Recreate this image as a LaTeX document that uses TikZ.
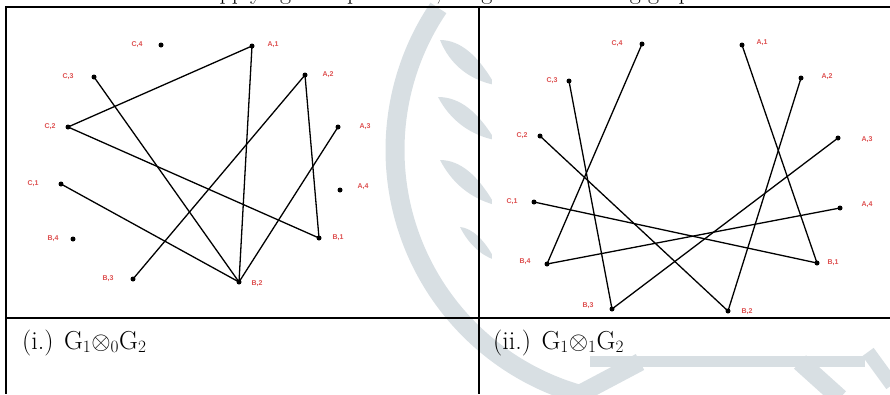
\documentclass[tikz,border=0pt]{standalone}
\usepackage{fontspec}
\newfontfamily\labfont{Liberation Sans}
\begin{document}
\begin{tikzpicture}[x=1pt,y=-1pt,
  dot/.style={circle,fill=black,inner sep=0pt,minimum size=5pt},
  lab/.style={font=\labfont\bfseries\fontsize{7}{7}\selectfont,text=labred,inner sep=1pt},
  edge/.style={line width=1.3pt,black},
  wm/.style={wmgray},
  rule/.style={line width=2pt,black},
  captext/.style={font=\fontsize{26}{28}\selectfont,anchor=base west,inner sep=0pt}]
\definecolor{labred}{RGB}{222,80,80}
\definecolor{wmgray}{RGB}{216,223,227}
\useasboundingbox (0,0) rectangle (890,394);
\clip (0,0) rectangle (890,394);
% watermark
\draw[wm,line width=19pt] (649,150) ++(214:254) arc[start angle=214,end angle=104,radius=254];
\fill[wm] (440,40) .. controls (460,40) and (478,55) .. (495,85) .. controls (470,80) and (450,65) .. cycle;
\fill[wm] (438,97) .. controls (460,97) and (478,112) .. (495,140) .. controls (470,135) and (450,120) .. cycle;
\fill[wm] (440,160) .. controls (460,160) and (478,175) .. (495,205) .. controls (470,198) and (452,183) .. cycle;
\fill[wm] (460,227) .. controls (472,228) and (485,240) .. (495,260) .. controls (480,255) and (468,243) .. cycle;
\draw[wm,line width=11pt] (590,361) -- (865,361);
\draw[wm,line width=18pt] (640,362) -- (572,398);
\draw[wm,line width=18pt] (800,362) -- (840,398);
\draw[wm,line width=14pt] (868,352) -- (892,385);
% image backgrounds
\fill[white] (15,10) rectangle (383,315);
\fill[white] (492,10) rectangle (888,316);
% top text (cut by the top edge, as in the reference)
\node[font=\fontsize{24}{26}\selectfont,anchor=base east,inner sep=0pt] (toptext) at (712,-1) {After applying the operations, we get the following graphs};
% table rules
\draw[rule] (6,7) -- (890,7);
\draw[rule] (6,318) -- (890,318);
\draw[rule] (6,6) -- (6,394);
\draw[rule] (478.5,6) -- (478.5,394);
% captions
\node[captext] (capL) at (22,349) {(i.) $\mathrm{G}_1{\otimes}_0\mathrm{G}_2$};
\node[captext] (capR) at (493,349) {(ii.) $\mathrm{G}_1{\otimes}_1\mathrm{G}_2$};
% left graph
\node[dot] (lC4) at (161,45) {};  \node[lab] (llC4) at (137,45) {C,4};
\node[dot] (lA1) at (252,46) {};  \node[lab] (llA1) at (273,45) {A,1};
\node[dot] (lC3) at (94,77) {};   \node[lab] (llC3) at (68,77) {C,3};
\node[dot] (lA2) at (305,75) {};  \node[lab] (llA2) at (328,75) {A,2};
\node[dot] (lC2) at (68,127) {};  \node[lab] (llC2) at (50,127) {C,2};
\node[dot] (lA3) at (338,127) {}; \node[lab] (llA3) at (365,127) {A,3};
\node[dot] (lC1) at (61,184) {};  \node[lab] (llC1) at (33,184) {C,1};
\node[dot] (lA4) at (340,190) {}; \node[lab] (llA4) at (363,187) {A,4};
\node[dot] (lB4) at (73,239) {};  \node[lab] (llB4) at (53,239) {B,4};
\node[dot] (lB1) at (319,238) {}; \node[lab] (llB1) at (338,238) {B,1};
\node[dot] (lB3) at (133,279) {}; \node[lab] (llB3) at (108,279) {B,3};
\node[dot] (lB2) at (239,282) {}; \node[lab] (llB2) at (257,284) {B,2};
\draw[edge] (lC2.center) -- (lA1.center);
\draw[edge] (lC2.center) -- (lB1.center);
\draw[edge] (lC3.center) -- (lB2.center);
\draw[edge] (lC1.center) -- (lB2.center);
\draw[edge] (lA1.center) -- (lB2.center);
\draw[edge] (lA2.center) -- (lB3.center);
\draw[edge] (lA2.center) -- (lB1.center);
\draw[edge] (lA3.center) -- (lB2.center);
% right graph
\node[dot] (rC4) at (642,44) {};  \node[lab] (rlC4) at (617,44) {C,4};
\node[dot] (rA1) at (742,45) {};  \node[lab] (rlA1) at (762,43) {A,1};
\node[dot] (rC3) at (569,81) {};  \node[lab] (rlC3) at (552,81) {C,3};
\node[dot] (rA2) at (801,78) {};  \node[lab] (rlA2) at (827,77) {A,2};
\node[dot] (rC2) at (540,136) {}; \node[lab] (rlC2) at (522,136) {C,2};
\node[dot] (rA3) at (838,138) {}; \node[lab] (rlA3) at (867,140) {A,3};
\node[dot] (rC1) at (534,202) {}; \node[lab] (rlC1) at (512,202) {C,1};
\node[dot] (rA4) at (840,208) {}; \node[lab] (rlA4) at (867,205) {A,4};
\node[dot] (rB4) at (547,264) {}; \node[lab] (rlB4) at (525,262) {B,4};
\node[dot] (rB1) at (817,263) {}; \node[lab] (rlB1) at (833,263) {B,1};
\node[dot] (rB3) at (612,309) {}; \node[lab] (rlB3) at (588,306) {B,3};
\node[dot] (rB2) at (728,311) {}; \node[lab] (rlB2) at (747,312) {B,2};
\draw[edge] (rC4.center) -- (rB4.center);
\draw[edge] (rC3.center) -- (rB3.center);
\draw[edge] (rC2.center) -- (rB2.center);
\draw[edge] (rC1.center) -- (rB1.center);
\draw[edge] (rA1.center) -- (rB1.center);
\draw[edge] (rA2.center) -- (rB2.center);
\draw[edge] (rA3.center) -- (rB3.center);
\draw[edge] (rA4.center) -- (rB4.center);
\end{tikzpicture}
\end{document}
